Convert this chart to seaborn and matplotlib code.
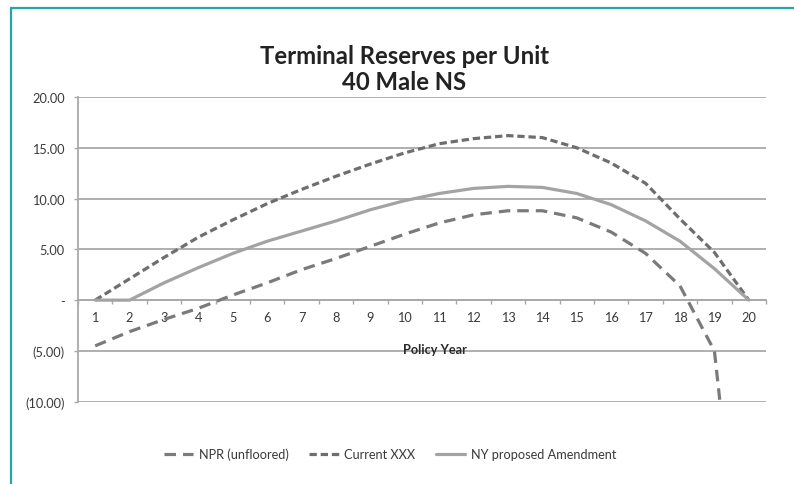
import numpy as np
import pandas as pd
import matplotlib
matplotlib.use("Agg")
import matplotlib.pyplot as plt
from matplotlib.lines import Line2D
from matplotlib.ticker import FixedLocator, FuncFormatter
import seaborn as sns

# ---- data ----
years = list(range(1, 21))
npr_unfloored = [-4.5, -3.1, -1.9, -0.8, 0.5, 1.7, 3.0, 4.1, 5.3, 6.5,
                 7.6, 8.4, 8.8, 8.8, 8.1, 6.7, 4.6, 1.4, -5.0, -36.0]
current_xxx = [0.0, 2.1, 4.2, 6.2, 7.9, 9.5, 10.9, 12.2, 13.4, 14.5,
               15.4, 15.9, 16.2, 16.0, 15.0, 13.5, 11.5, 8.0, 4.7, 0.0]
ny_amendment = [0.0, 0.0, 1.7, 3.2, 4.6, 5.8, 6.8, 7.8, 8.9, 9.8,
                10.5, 11.0, 11.2, 11.1, 10.5, 9.4, 7.8, 5.8, 3.1, 0.0]
series_names = ["NPR (unfloored)", "Current XXX", "NY proposed Amendment"]
y_ticks = [-10, -5, 0, 5, 10, 15, 20]
title_lines = ["Terminal Reserves per Unit", "40 Male NS"]
x_label = "Policy Year"

df = pd.concat([
    pd.DataFrame({"year": years, "value": v, "series": n})
    for n, v in zip(series_names, [npr_unfloored, current_xxx, ny_amendment])
], ignore_index=True)

sns.set_style("white")
plt.rcParams["font.family"] = ["Lato", "DejaVu Sans"]

W, H = 794, 485
fig = plt.figure(figsize=(W / 100, H / 100), dpi=100)
ax = fig.add_axes([78 / W, 1 - 402.7 / H, (766 - 78) / W, (402.7 - 98) / H])

grid_c = "#a9a9a9"
for yv in y_ticks:
    ax.axhline(yv, color=grid_c, lw=1.3, zorder=1)

palette = {"NPR (unfloored)": "#7a7a7a", "Current XXX": "#6e6e6e",
           "NY proposed Amendment": "#a3a3a3"}
dashes = {"NPR (unfloored)": (3.6, 2.2), "Current XXX": (2.3, 1.2),
          "NY proposed Amendment": ""}
sns.lineplot(data=df, x="year", y="value", hue="series", style="series",
             hue_order=series_names, style_order=series_names,
             palette=palette, dashes=dashes, lw=2.3, ax=ax, zorder=3,
             legend=True)
handles, labels = ax.get_legend_handles_labels()
ax.get_legend().remove()

ax.set_xlim(0.5, 20.5)
ax.set_ylim(-10, 20)
ax.set_xlabel("")
ax.set_ylabel("")

for s in ["top", "right"]:
    ax.spines[s].set_visible(False)
ax.spines["left"].set_color(grid_c)
ax.spines["left"].set_linewidth(1.3)
ax.spines["bottom"].set_position(("data", 0))
ax.spines["bottom"].set_color(grid_c)
ax.spines["bottom"].set_linewidth(1.3)

ax.yaxis.set_major_locator(FixedLocator(y_ticks))

def yfmt(v, pos):
    if abs(v) < 1e-9:
        return "-"
    if v < 0:
        return "({:.2f})".format(-v)
    return "{:.2f}".format(v)

ax.yaxis.set_major_formatter(FuncFormatter(yfmt))
ax.tick_params(axis="y", which="major", length=3, width=1, color=grid_c,
               pad=6.5, labelsize=9.2, labelcolor="#3a3a3a", left=True)

ax.xaxis.set_major_locator(FixedLocator(years))
ax.xaxis.set_major_formatter(FuncFormatter(lambda v, p: str(int(round(v)))))
ax.xaxis.set_minor_locator(FixedLocator([y + 0.5 for y in range(0, 21)]))
ax.tick_params(axis="x", which="major", length=0, pad=7.5, labelsize=9.2,
               labelcolor="#3a3a3a")
ax.tick_params(axis="x", which="minor", length=3, width=1, color=grid_c,
               direction="out", bottom=True)

ax.text((435 - 78) / 688, 1 - (350 - 98) / 304.7, x_label,
        transform=ax.transAxes, ha="center", va="center",
        fontsize=9.2, fontweight="bold", color="#2a2a2a")

fig.text(404 / W, 1 - 63.5 / H, title_lines[0], ha="center", va="baseline",
         fontsize=17.2, fontweight="bold", color="#222222")
fig.text(404 / W, 1 - 90 / H, title_lines[1], ha="center", va="baseline",
         fontsize=17.2, fontweight="bold", color="#222222")

leg = fig.legend(handles, labels, loc="center", bbox_to_anchor=(390 / W, 1 - 455 / H),
                 ncol=3, frameon=False, fontsize=9.2, handlelength=2.3,
                 handletextpad=0.45, columnspacing=1.6, labelcolor="#3a3a3a")
for h in leg.get_lines():
    h.set_linewidth(2.3)

teal = "#1fa6ae"
fig.add_artist(Line2D([11 / W, 11 / W], [0, 1 - 9 / H], transform=fig.transFigure,
                      color=teal, lw=1.6))
fig.add_artist(Line2D([11 / W, 1], [1 - 9 / H, 1 - 9 / H], transform=fig.transFigure,
                      color=teal, lw=1.6))

fig.savefig("out.png", dpi=100)
